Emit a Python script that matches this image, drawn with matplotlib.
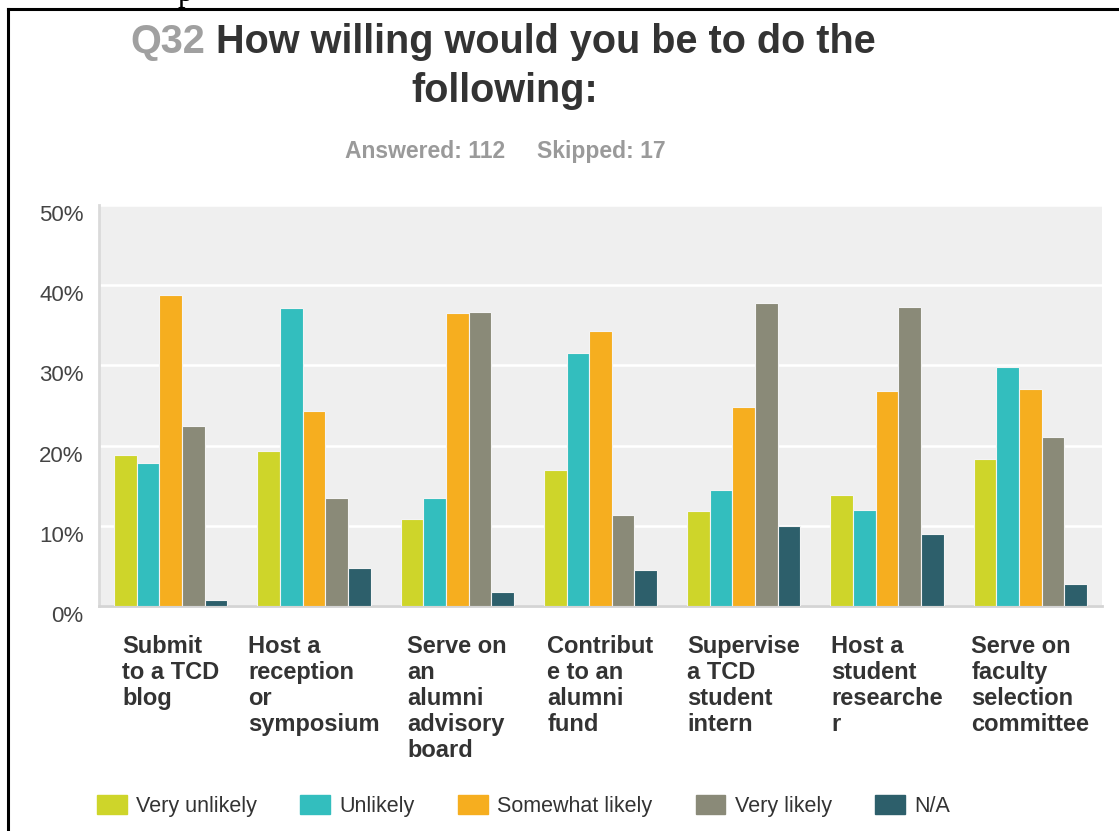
import numpy as np
import matplotlib
matplotlib.use("Agg")
import matplotlib.pyplot as plt
import matplotlib.patches as mpat
from matplotlib.lines import Line2D

plt.rcParams['font.family'] = ['Liberation Sans', 'DejaVu Sans']

# Data (percent of respondents)
categories = ["Submit\nto a TCD\nblog",
              "Host a\nreception\nor\nsymposium",
              "Serve on\nan\nalumni\nadvisory\nboard",
              "Contribut\ne to an\nalumni\nfund",
              "Supervise\na TCD\nstudent\nintern",
              "Host a\nstudent\nresearche\nr",
              "Serve on\nfaculty\nselection\ncommittee"]
series_names = ["Very unlikely", "Unlikely", "Somewhat likely", "Very likely", "N/A"]
very_unlikely = [18.8, 19.3, 10.8, 17.0, 11.8, 13.8, 18.3]
unlikely = [17.8, 37.1, 13.5, 31.5, 14.5, 12.0, 29.8]
somewhat_likely = [38.8, 24.3, 36.5, 34.3, 24.8, 26.8, 27.0]
very_likely = [22.5, 13.5, 36.6, 11.3, 37.8, 37.3, 21.1]
not_applicable = [0.8, 4.7, 1.7, 4.5, 10.0, 9.0, 2.7]
y_ticks = [0, 10, 20, 30, 40, 50]

series = [very_unlikely, unlikely, somewhat_likely, very_likely, not_applicable]
colors = ["#CED52A", "#33BEBE", "#F6AE1F", "#8A8A78", "#2D5F6B"]

W, H = 1119, 831
fig = plt.figure(figsize=(W / 100, H / 100), dpi=100)
ax = fig.add_axes([99 / W, 1 - 606 / H, (1102 - 99) / W, (606 - 205) / H])
ax.set_facecolor("#EFEFEF")

x = np.arange(len(categories))
bw = 0.158
for k, (vals, c) in enumerate(zip(series, colors)):
    ax.bar(x + (k - 2) * bw, vals, bw, color=c, edgecolor="#f4f4f4",
           linewidth=0.8, zorder=3, label=series_names[k])

ax.set_xlim(-0.5, len(categories) - 0.5)
ax.set_ylim(0, 50)
ax.set_yticks(y_ticks)
ax.set_yticklabels(["%d%%" % v for v in y_ticks], fontsize=16, color="#444444",
                   va="top")
ax.tick_params(axis="y", length=0, pad=11)
ax.grid(axis="y", color="white", linewidth=1.8, zorder=1)
ax.set_axisbelow(True)

ax.set_xticks(x)
ax.set_xticklabels(categories, fontsize=17, fontweight="bold", color="#333333",
                   ha="center", multialignment="left", linespacing=1.16)
ax.tick_params(axis="x", length=0, pad=21)

for s in ["top", "right"]:
    ax.spines[s].set_visible(False)
ax.spines["left"].set_color("#DADADA")
ax.spines["left"].set_linewidth(2)
ax.spines["bottom"].set_color("#D4D4D4")
ax.spines["bottom"].set_linewidth(2)

# title, two colours on the first line
t1 = fig.text(130 / W, 1 - 53 / H, "Q32", fontsize=28.5, fontweight="bold",
              color="#A0A0A0", va="baseline", ha="left")
ax.annotate(" How willing would you be to do the", xy=(1, 0), xycoords=t1,
            va="bottom", ha="left", fontsize=28.5, fontweight="bold",
            color="#333333", annotation_clip=False)
fig.text(505 / W, 1 - 102 / H, "following:", fontsize=28.5, fontweight="bold",
         color="#333333", va="baseline", ha="center")

fig.text(345 / W, 1 - 158 / H, "Answered: 112", fontsize=16.5, fontweight="bold",
         color="#9A9A9A", va="baseline", ha="left")
fig.text(537 / W, 1 - 158 / H, "Skipped: 17", fontsize=16.5, fontweight="bold",
         color="#9A9A9A", va="baseline", ha="left")

# legend
handles = [mpat.Patch(facecolor=c, edgecolor=c) for c in colors]
fig.legend(handles, series_names, loc="center left",
           bbox_to_anchor=(97 / W, 1 - 806 / H), ncol=5, frameon=False,
           fontsize=15.5, handlelength=1.38, handleheight=1.0,
           handletextpad=0.45, columnspacing=2.0, borderpad=0,
           borderaxespad=0, labelcolor="#333333")

# page frame and the cut-off letter above it
fig.add_artist(Line2D([8 / W, 1], [1 - 9 / H, 1 - 9 / H], color="black", linewidth=2.2))
fig.add_artist(Line2D([8 / W, 8 / W], [0, 1 - 9 / H], color="black", linewidth=2.2))
fig.text(178 / W, 1 - 1 / H, "p", fontsize=22, family="Liberation Serif",
         color="black", va="baseline", ha="left")

fig.savefig("out.png", dpi=100)
